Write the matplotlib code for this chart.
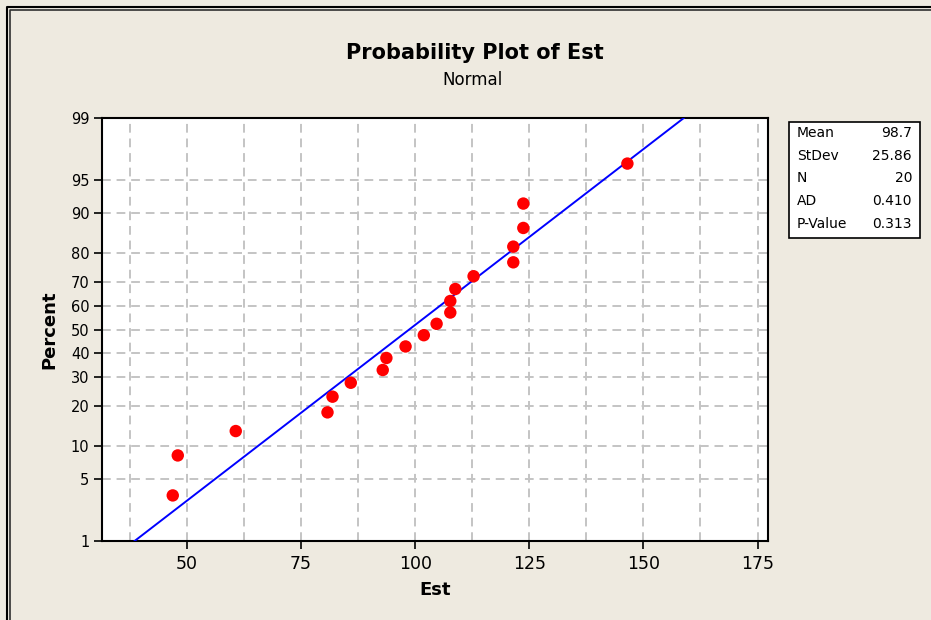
import numpy as np
import matplotlib
matplotlib.use("Agg")
import matplotlib.pyplot as plt
from matplotlib.lines import Line2D
from matplotlib.patches import Rectangle
from statistics import NormalDist

# ---- data ----
est_values = [46.9, 48.0, 60.7, 80.8, 81.9, 85.9, 92.9, 93.7, 97.9, 101.9,
              104.7, 107.7, 107.7, 108.8, 112.8, 121.5, 121.5, 123.7, 123.7, 146.5]
percent_values = [3.4, 8.3, 13.2, 18.1, 23.0, 27.9, 32.8, 37.7, 42.6, 47.5,
                  52.5, 57.4, 62.3, 67.2, 72.1, 77.0, 81.9, 86.8, 91.7, 96.6]
fit_mean = 98.7
fit_stdev = 25.86
stat_labels = ["Mean", "StDev", "N", "AD", "P-Value"]
stat_texts = ["98.7", "25.86", "20", "0.410", "0.313"]
x_ticks = [50, 75, 100, 125, 150, 175]
x_grid = [37.5, 62.5, 87.5, 112.5, 137.5, 162.5]
y_ticks = [1, 5, 10, 20, 30, 40, 50, 60, 70, 80, 90, 95, 99]

nd = NormalDist()
_ppf = np.vectorize(lambda p: nd.inv_cdf(min(max(p / 100.0, 1e-12), 1 - 1e-12)), otypes=[float])
_cdf = np.vectorize(lambda z: nd.cdf(z) * 100.0, otypes=[float])

def forward(p):
    return _ppf(np.asarray(p, dtype=float))

def inverse(z):
    return _cdf(np.asarray(z, dtype=float))

BG = "#EEEAE0"
fig = plt.figure(figsize=(9.31, 6.2), dpi=100, facecolor=BG)
ax = fig.add_axes([102 / 931, 1 - 541 / 620, (768 - 102) / 931, (541 - 118) / 620])
ax.set_facecolor("white")
ax.set_yscale("function", functions=(forward, inverse))
ax.set_xlim(31.4, 177.3)
ax.set_ylim(1, 99)

# fitted line
line_p = [0.5, 99.5]
line_x = [fit_mean + fit_stdev * nd.inv_cdf(p / 100.0) for p in line_p]
ax.plot(line_x, line_p, color="#0000FF", lw=1.4, zorder=3, clip_on=True)

# points
ax.scatter(est_values, percent_values, s=80, color="#FF0000", edgecolors="none", zorder=4)

# ticks and grid
ax.set_xticks(x_ticks)
ax.set_xticks(x_grid, minor=True)
ax.set_yticks(y_ticks)
ax.set_yticklabels([str(t) for t in y_ticks])
ax.yaxis.set_minor_locator(matplotlib.ticker.NullLocator())
ax.grid(True, which="both", axis="x", color="#C4C4C4", lw=1.4, ls=(0, (4.5, 3)))
ax.grid(True, which="major", axis="y", color="#C4C4C4", lw=1.4, ls=(0, (4.5, 3)))
ax.set_axisbelow(True)
ax.tick_params(axis="x", which="major", direction="out", length=6, width=1.2,
               labelsize=12.5, pad=4, colors="black")
ax.tick_params(axis="x", which="minor", length=0)
ax.tick_params(axis="y", which="major", direction="out", length=6, width=1.2,
               labelsize=10.5, pad=3, colors="black")
for sp in ax.spines.values():
    sp.set_color("black")
    sp.set_linewidth(1.5)

ax.set_xlabel("Est", fontsize=13, fontweight="bold", labelpad=6)
ax.set_ylabel("Percent", fontsize=13, fontweight="bold", labelpad=9)

# titles
fig.text(475 / 931, 1 - 53 / 620, "Probability Plot of Est", ha="center", va="center",
         fontsize=15, fontweight="bold")
fig.text(472 / 931, 1 - 80 / 620, "Normal", ha="center", va="center", fontsize=12)

# stats box
box = Rectangle((789 / 931, 1 - 238 / 620), (920 - 789) / 931, (238 - 122) / 620,
                transform=fig.transFigure, facecolor="white", edgecolor="black", lw=1.2)
fig.patches.append(box)
row_y = [133, 156, 178, 201, 224]
for lab, val, yy in zip(stat_labels, stat_texts, row_y):
    fig.text(797 / 931, 1 - yy / 620, lab, ha="left", va="center", fontsize=10)
    fig.text(912 / 931, 1 - yy / 620, val, ha="right", va="center", fontsize=10)

# outer frame (double line)
fig.add_artist(Line2D([7 / 931, 7 / 931, 1.0], [0.0, 1 - 7 / 620, 1 - 7 / 620],
                      transform=fig.transFigure, color="black", lw=1.5))
fig.add_artist(Line2D([10 / 931, 10 / 931, 1.0], [0.0, 1 - 10 / 620, 1 - 10 / 620],
                      transform=fig.transFigure, color="#303030", lw=1.2))

fig.savefig("out.png", dpi=100, facecolor=BG)
